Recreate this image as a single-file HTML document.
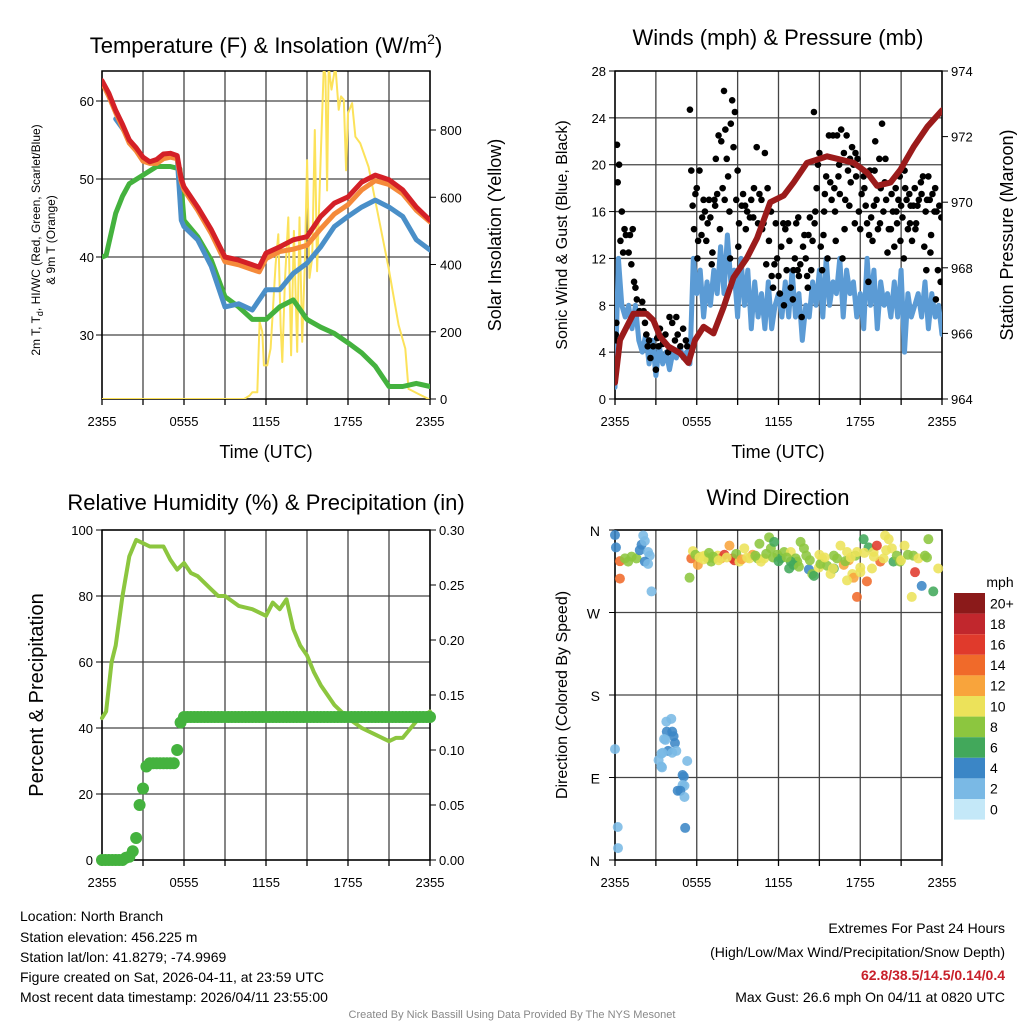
<!DOCTYPE html>
<html><head><meta charset="utf-8"><style>
body{margin:0;background:#fff;}
svg{display:block;font-family:"Liberation Sans",sans-serif;}
</style></head><body>
<svg id="c" width="1024" height="1024" xmlns="http://www.w3.org/2000/svg">
<defs>
<clipPath id="cp1"><rect x="102" y="71" width="328" height="328"/></clipPath>
<clipPath id="cp2"><rect x="615" y="71" width="327" height="328"/></clipPath>
<clipPath id="cp3"><rect x="96" y="524" width="340" height="342"/></clipPath>
</defs>
<g id="titles">
<text x="266" y="53" font-size="22" text-anchor="middle">Temperature (F) &amp; Insolation (W/m<tspan font-size="14" dy="-9">2</tspan><tspan dy="9">)</tspan></text>
<text x="778" y="45" font-size="22" text-anchor="middle">Winds (mph) &amp; Pressure (mb)</text>
<text x="266" y="510" font-size="22" text-anchor="middle">Relative Humidity (%) &amp; Precipitation (in)</text>
<text x="778" y="505" font-size="22" text-anchor="middle">Wind Direction</text>
<text x="266" y="458" font-size="18" text-anchor="middle">Time (UTC)</text>
<text x="778" y="458" font-size="18" text-anchor="middle">Time (UTC)</text>
<text transform="translate(40,240) rotate(-90)" font-size="12" text-anchor="middle">2m T, T<tspan font-size="9" dy="3">d</tspan><tspan dy="-3">, HI/WC (Red, Green, Scarlet/Blue)</tspan></text>
<text transform="translate(55,240) rotate(-90)" font-size="12" text-anchor="middle">&amp; 9m T (Orange)</text>
<text transform="translate(501,235) rotate(-90)" font-size="18" text-anchor="middle">Solar Insolation (Yellow)</text>
<text transform="translate(567,235) rotate(-90)" font-size="16" text-anchor="middle">Sonic Wind &amp; Gust (Blue, Black)</text>
<text transform="translate(1013,235) rotate(-90)" font-size="18" text-anchor="middle">Station Pressure (Maroon)</text>
<text transform="translate(43,695) rotate(-90)" font-size="20" text-anchor="middle">Percent &amp; Precipitation</text>
<text transform="translate(567,695) rotate(-90)" font-size="16" text-anchor="middle">Direction (Colored By Speed)</text>
</g>
<g id="footer" font-size="14">
<text x="20" y="921">Location: North Branch</text>
<text x="20" y="942">Station elevation: 456.225 m</text>
<text x="20" y="962">Station lat/lon: 41.8279; -74.9969</text>
<text x="20" y="982">Figure created on Sat, 2026-04-11, at 23:59 UTC</text>
<text x="20" y="1002">Most recent data timestamp: 2026/04/11 23:55:00</text>
<text x="1005" y="933" text-anchor="end">Extremes For Past 24 Hours</text>
<text x="1005" y="957" text-anchor="end">(High/Low/Max Wind/Precipitation/Snow Depth)</text>
<text x="1005" y="980" text-anchor="end" font-weight="bold" fill="#c8202a">62.8/38.5/14.5/0.14/0.4</text>
<text x="1005" y="1002" text-anchor="end">Max Gust: 26.6 mph On 04/11 at 0820 UTC</text>
<text x="512" y="1018" text-anchor="middle" font-size="11" fill="#888">Created By Nick Bassill Using Data Provided By The NYS Mesonet</text>
</g>
</svg>
<script>
const xTickLabels=["2355","0555","1155","1755","2355"];
const xTickHours=[0,6,12,18,24];
const tempHours=[0,0.5,1,1.5,2,2.5,3,3.5,4,4.5,5,5.5,5.8,6,7,8,9,10,11,11.5,12,13,14,15,16,17,18,19,20,21,22,23,24];
const redTemp=[62.6,61,58.8,57,55,54,52.8,52.2,52.5,53.2,53.3,53,50,49,46.4,43.5,40,39.6,39,38.7,40.5,41.3,42.2,42.6,45.2,46.9,47.7,49.6,50.5,49.9,48.6,46.4,44.7];
const orangeTemp=[62.4,60.6,58.5,56.6,54.6,53.6,52.3,52,52,52.6,52.8,52.6,49.6,48.6,46,43,39.4,39,38.4,38.1,39.8,40.7,41,41.5,43.6,45.5,46.7,48.6,49.8,49.3,48.1,46,44.5];
const blueHours=[1,1.5,2,2.5,3,3.5,4,4.5,5,5.5,5.8,6,7,8,9,10,11,12,13,14,15,16,17,18,19,20,21,22,23,24];
const blueTemp=[57.7,56.5,55,53.8,52.6,52.1,52.4,53,53.2,52.8,44.7,43.9,42.2,38.8,33.6,34,33.2,35.8,35.8,37.9,39.2,41.3,43.9,45.2,46.4,47.3,46.4,45.2,42.2,40.9];
const greenHours=[0,0.3,1,1.5,2,3,4,5,5.7,6,7,8,9,10,11,12,13,14,15,16,17,18,19,20,21,22,23,24];
const greenTemp=[40,40.2,45.6,47.8,49.4,50.5,51.6,51.6,51.3,44.7,42.6,39.6,34.9,33.6,32,32,33.6,34.5,32,31,30.2,29,27.7,26,23.4,23.4,23.8,23.4];
const solarHours=[0,10.4,10.8,11,11.36,11.53,11.73,11.85,12.09,12.34,12.7,12.9,13.07,13.19,13.38,13.63,13.84,14.04,14.28,14.45,14.65,14.84,15.01,15.18,15.38,15.57,15.74,15.99,16.23,16.35,16.47,16.59,16.79,17.08,17.32,17.49,17.69,17.86,18,18.3,18.54,18.9,19.51,20.24,20.97,21.7,22.19,22.43,23.16,23.9];
const solarVals=[0,0,10,20,20,230,200,100,100,150,400,490,220,110,350,540,130,500,140,540,170,400,710,360,420,800,380,700,990,960,620,990,920,990,860,900,890,680,850,880,780,760,690,540,390,220,150,30,15,0];
const tempTicks=[30,40,50,60];
const solarTicks=[0,200,400,600,800];

const windTicks=[0,4,8,12,16,20,24,28];
const presTicks=[964,966,968,970,972,974];
const presHours=[0,0.37,1.35,2.33,2.82,3.31,3.92,4.78,5.39,5.88,6.5,7.23,7.97,8.7,9.68,10.42,11.4,12.38,13.11,14.09,14.83,15.56,16.54,17.52,18.5,19.24,20.22,20.96,21.94,22.92,24];
const presVals=[964.5,965.8,966.6,966.6,966.4,965.9,965.6,965.4,965.1,965.8,966.2,966.0,966.8,967.7,968.3,968.9,970.0,970.2,970.6,971.2,971.3,971.4,971.3,971.2,970.9,970.5,970.6,971.0,971.7,972.3,972.8];
const windVals=[1,12,8,7,8,6,8,5,4,5.5,3,5,2,4.5,3,4,2.5,4,3.5,4.5,3.5,4,3,12,9,11,7,10,8,11,9,13,9,14,10,11,7,12,8,11,6,10,7,9,6,10,6,8,9,7,10,7,11,7,9,5,8,7,10,8,11,7,12,8,10,9,12,7,11,9,10,7,9,6,12,8,11,6,10,8,9,7,10,7,11,4,9,7,8,9,7,10,6,9,7,8,5.5];
const gustHours=[
0.05,0.1,0.15,0.2,0.3,0.4,0.5,0.6,0.7,0.8,
1.0,1.1,1.2,1.3,1.4,1.5,1.6,1.8,2.0,2.1,
2.2,2.3,2.4,2.5,2.6,2.8,3.0,3.1,3.2,3.3,
3.5,3.7,3.9,4.0,4.2,4.4,4.5,4.6,4.8,5.0,
5.2,5.3,5.5,5.6,5.7,5.8,5.9,6.0,6.1,6.2,
6.4,6.5,6.6,6.7,6.8,6.9,7.0,7.1,7.3,7.4,
7.5,7.6,7.7,7.8,7.9,8.0,8.1,8.2,8.3,8.4,
8.5,8.6,8.7,8.8,8.9,9.0,9.1,9.3,9.4,9.6,
9.7,9.9,10.0,10.2,10.4,10.5,10.6,10.8,10.9,11.0,
11.1,11.2,11.3,11.5,11.6,11.7,11.8,11.9,12.0,12.1,
12.2,12.4,12.5,12.6,12.7,12.8,12.9,13.1,13.2,13.3,
13.4,13.5,13.6,13.7,13.8,13.9,14.0,14.1,14.2,14.3,
14.4,14.5,14.6,14.7,14.8,14.9,15.0,15.1,15.2,15.3,
15.4,15.5,15.6,15.7,15.8,15.9,16.0,16.1,16.2,16.3,
16.4,16.5,16.6,16.7,16.8,16.9,17.0,17.1,17.2,17.3,
17.4,17.5,17.6,17.7,17.8,17.9,18.0,18.1,18.3,18.4,
18.5,18.6,18.7,18.8,18.9,19.0,19.1,19.2,19.3,19.4,
19.5,19.6,19.7,19.8,19.9,20.0,20.1,20.3,20.4,20.5,
20.6,20.7,20.8,20.9,21.0,21.1,21.2,21.3,21.4,21.5,
21.6,21.7,21.8,21.9,22.0,22.1,22.2,22.3,22.5,22.6,
22.7,22.8,22.9,23.0,23.1,23.2,23.3,23.5,23.6,23.7,
6.05,6.35,7.15,7.35,8.05,8.45,9.05,9.55,10.15,10.75,
11.45,12.35,13.05,13.45,14.15,14.65,15.35,16.15,16.45,16.85,
17.25,17.65,18.25,18.65,19.05,19.45,19.85,20.25,20.65,20.95,
21.25,21.65,22.05,22.45,22.85,23.15,23.45,23.55,23.95,0.12,
23.8,23.9];
const gustVals=[
5.5,6.5,21.7,18.5,20,13.5,16,12.5,14.5,14,
12.5,14,11.5,14.5,10,9.5,8.5,7.5,8.3,7.5,
6.5,5.5,4.5,5,3.5,4.5,2.5,5.2,4.5,6,
4.7,5.5,4,7,6.5,5,7,5.5,4.5,6,
5,4.5,24.7,19.5,16.5,14.5,17.5,18,13.5,19.5,
15.5,17,16,13.5,15,17,15.5,11.5,17,20.5,
17.5,22.5,14.5,22,18,26.3,23,20.5,19,16,
23.5,25.5,21.5,24.5,17,19.5,15,16.5,17.5,14.5,
16,15.5,17,18,21.5,15,17.5,14.5,15,21,
11.5,18,13.5,10.5,9.5,11.5,15,12,10.5,9,
13,8,14.5,11,15,13.5,9.5,11,12,15,
11,10.5,11.5,7,13,14,12,10.5,14,15.5,
11,13.5,24.5,16,18,20,21,13,11,14,
17.5,19,12,22.5,18.5,17,22.5,18,13.5,22.5,
19,17.5,23,12,21,17,22.5,19.5,16.5,18.5,
21.5,20,15,19,20.5,16,14.5,17.5,18,16.5,
15,10,19.5,15.5,13.5,16.5,22,17,14.5,20.5,
18,23.5,16,18.5,17,12.5,14.5,17.5,16,13,
18,15,17,19,16.5,15.5,12,18,17,14.5,
17.5,16.5,13.5,16.5,18,15,16.5,17,17.5,19,
13,16,17,19,17,14,17.5,18,16,11,
12,14,12.5,16.5,17,12,13,16.5,15.5,17,
16,15,8.5,15.5,9.5,15,16,16,20,14.5,
20.5,21,19,14,19.5,15,20.5,14.5,16,13.5,
19.5,15,14.5,18.5,11,12.5,16,8.5,15.5,5,
16.5,10];

const rhTicks=[0,20,40,60,80,100];
const precipTicks=["0.00","0.05","0.10","0.15","0.20","0.25","0.30"];
const rhHours=[0,0.3,0.7,1,1.5,2,2.5,3,3.5,4,4.5,5,5.5,6,6.5,7,8,8.5,9,10,11,12,12.5,13,13.5,14,14.5,15,15.5,16,17,18,19,20,21,21.5,22,23,24];
const rhVals=[43,45,60,65,80,92,97,96,95,95,95,91,88,90,87,86,82,80,80,77,76,74,78,76,79,70,65,62,57,53,47,43,40,38,36,37,37,42,45];
const precipVals=[0,0,0,0,0,0,0,0.002,0.003,0.008,0.02,0.05,0.065,0.085,0.088,0.088,0.088,0.088,0.088,0.088,0.088,0.088,0.1,0.125,0.13,0.13,0.13,0.13,0.13,0.13,0.13,0.13,0.13,0.13,0.13,0.13,0.13,0.13,0.13,0.13,0.13,0.13,0.13,0.13,0.13,0.13,0.13,0.13,0.13,0.13,0.13,0.13,0.13,0.13,0.13,0.13,0.13,0.13,0.13,0.13,0.13,0.13,0.13,0.13,0.13,0.13,0.13,0.13,0.13,0.13,0.13,0.13,0.13,0.13,0.13,0.13,0.13,0.13,0.13,0.13,0.13,0.13,0.13,0.13,0.13,0.13,0.13,0.13,0.13,0.13,0.13,0.13,0.13,0.13,0.13,0.13,0.13];

const dirLabels=["N","E","S","W","N"];
const speedLabels=["0","2","4","6","8","10","12","14","16","18","20+"];
const speedColors=["#c4e8f8","#7ab9e5","#3b86c6","#42a85b","#8cc63f","#ece25a","#f8a43c","#f06a2a","#e03a2c","#c1272d","#8b1a1a"];
const dirHours=[0,0.07,0.36,0.73,0.97,1.22,1.58,0.36,1.82,1.95,2.19,2.07,2.55,2.43,2.19,2.68,2.43,0,0.2,0.22,3.77,4.13,3.8,4.2,4.3,3.6,3.7,4.4,3.9,4.5,3.4,3.2,3.5,4.2,3.4,3.45,5.3,4.96,5.05,4.96,5.1,4.6,4.8,5.1,5.15,5.47,5.6,5.72,6.08,6.33,6.57,6.81,7.06,7.3,7.54,7.79,8.03,8.4,8.64,8.76,9.13,9.49,9.86,10.1,10.47,10.71,11.31,11.44,11.68,11.92,12.17,12.41,12.78,12.9,13.26,13.38,13.62,13.87,14.04,14.23,14.48,14.6,14.96,15.2,15.57,15.82,16.06,16.3,16.55,16.79,17.03,17.16,17.42,17.52,17.64,17.76,18.01,18.25,18.49,18.61,18.86,18.98,19.22,19.47,19.71,19.82,20.09,20.32,20.44,20.68,20.92,21.25,21.78,21.9,22.02,22.27,22.51,22.75,23.0,23.36,23.72,17.03,17.76,16.06,15.08,12.9,10.95,18.0];
const dirVals=[354.5,341,326,329,325.5,331,329,307,338,344,348,354,332,336,325.5,293,323,121,36,13,151,154,140,140,135,132,131,127.6,119,119,116,109,117,117,102,101,108,92.7,91,81.8,81,75.6,75.6,68.7,35,308,329,337,322,331,332,329,325.5,329,332,329,333,343,329,327,325.5,340,329,333,329,325.5,352,340,347,333,329,336,318,336,329,325.5,347,340,332,317,312,310,319,329,321,312,318,329,343,322,336,327,312,308,332,287,314,350,304,341,318,336,343,325.5,329,354,350,340,325.5,332,325.5,343,287,332,314,329,299,332,350,293,318,305,336,332,323,325.5,329,319,301,329,307,322,334,320,1];
const dirSpeeds=[3,3,13,7,8,7,8,13,3,3,2,1,2,2,3,2,2,2,2,2,2,2,4,3,4,2,2,4,4,2,2,1,2,2,2,1,2,4,4,2,2,4,4,2,4,7,13,10,12,9,10,8,7,8,10,12,15,12,15,16,9,10,10,12,8,9,8,7,6,7,6,8,6,9,7,8,7,7,8,4,7,6,10,10,8,10,6,8,9,12,10,11,10,11,7,13,10,6,13,6,10,9,16,13,9,9,10,9,6,7,8,9,10,7,16,10,4,7,7,6,10,10,10,8,8,6,9,9,10,10,8,7,9,10];
const dirHours2=[5.9,6.2,6.5,6.9,7.2,7.6,8.2,8.9,9.3,9.7,10.3,10.6,11.1,11.6,12.0,12.6,13.1,13.5,14.3,15.0,15.4,16.0,16.9,17.3,18.3,19.0,19.9,21.0,21.5,22.9];
const dirVals2=[333,330,328,335,331,327,330,334,328,330,332,345,334,330,326,330,322,320,327,333,330,318,326,330,335,331,338,327,333,330];
const dirSpeeds2=[8,9,10,8,7,10,9,8,12,9,8,7,7,8,6,7,6,7,8,9,10,10,8,9,9,10,9,10,8,7];

const NS="http://www.w3.org/2000/svg";
const svg=document.getElementById('c');
function el(tag,attrs,parent){const e=document.createElementNS(NS,tag);for(const k in attrs)e.setAttribute(k,attrs[k]);(parent||svg).appendChild(e);return e;}
function lin(d0,d1,r0,r1){return v=>r0+(v-d0)*(r1-r0)/(d1-d0);}

function frame(L,R,T,B,hLines,name){
  const g=el('g',{});
  
  
  for(let i=0;i<=8;i++){const x=L+(R-L)*i/8;el('line',{x1:x,x2:x,y1:T,y2:B,stroke:'#444','stroke-width':1.3},g);}
  hLines.forEach(y=>el('line',{x1:L,x2:R,y1:y,y2:y,stroke:'#444','stroke-width':1.3},g));
  el('rect',{x:L,y:T,width:R-L,height:B-T,fill:'none',stroke:'#000','stroke-width':1.5},g);
  for(let i=0;i<=8;i++){const x=L+(R-L)*i/8;el('line',{x1:x,x2:x,y1:B,y2:B+6,stroke:'#000','stroke-width':1.3},g);}
}
function xLabels(L,R,y,name){
  const xs=lin(0,24,L,R);
  xTickHours.forEach((h,i)=>{const t=el('text',{x:xs(h),y:y,'font-size':13,'text-anchor':'middle'});t.textContent=xTickLabels[i];
  
  });
}
function pathD(xsArr,ysArr){return xsArr.map((x,i)=>(i?'L':'M')+x.toFixed(1)+','+ysArr[i].toFixed(1)).join('');}
function line(d,color,w,name,clip){const p=el('path',{d:d,fill:'none',stroke:color,'stroke-width':w,'stroke-linejoin':'round','stroke-linecap':'round','clip-path':clip?'url(#'+clip+')':''});
  
  return p;}
function label(x,y,txt,anchor,name,size){const t=el('text',{x:x,y:y,'font-size':size||13,'text-anchor':anchor});t.textContent=txt;
  
  return t;}

/* Panel 1 */
{const L=102,R=430,T=71,B=399;
 const xs=lin(0,24,L,R), yt=lin(40,50,257,179), ys=lin(0,800,399,130);
 frame(L,R,T,B,tempTicks.map(yt),'temperature');
 tempTicks.forEach(v=>{label(L-8,yt(v)+5,String(v),'end','temp-tick-label');el('line',{x1:L-6,x2:L,y1:yt(v),y2:yt(v),stroke:'#000'});});
 solarTicks.forEach(v=>{label(R+10,ys(v)+5,String(v),'start','solar-tick-label');el('line',{x1:R,x2:R+6,y1:ys(v),y2:ys(v),stroke:'#000'});});
 xLabels(L,R,426,'temperature');
 line(pathD(solarHours.map(xs),solarVals.map(ys)),'#fce25a',2,'solar-line','cp1');
 line(pathD(greenHours.map(xs),greenTemp.map(yt)),'#44b23e',5,'dewpoint-line','cp1');
 line(pathD(blueHours.map(xs),blueTemp.map(yt)),'#4a8fc8',5,'windchill-line','cp1');
 line(pathD(tempHours.map(xs),orangeTemp.map(yt)),'#f58a3a',5,'temp-9m-line','cp1');
 line(pathD(tempHours.map(xs),redTemp.map(yt)),'#d42027',5,'temp-2m-line','cp1');
}
/* Panel 2 */
{const L=615,R=942,T=71,B=399;
 const xs=lin(0,24,L,R), yw=lin(0,28,B,T), yp=lin(964,974,B,T);
 frame(L,R,T,B,windTicks.map(yw),'winds');
 windTicks.forEach(v=>{label(L-9,yw(v)+5,String(v),'end','wind-tick-label');el('line',{x1:L-6,x2:L,y1:yw(v),y2:yw(v),stroke:'#000'});});
 presTicks.forEach(v=>{label(R+9,yp(v)+5,String(v),'start','pressure-tick-label');el('line',{x1:R,x2:R+6,y1:yp(v),y2:yp(v),stroke:'#000'});});
 xLabels(L,R,426,'winds');
 const wh=windVals.map((v,i)=>i*0.25);
 line(pathD(wh.map(xs),windVals.map(yw)),'#5b9bd5',5,'sonic-wind-line','cp2');
 const gg=el('g',{'clip-path':'url(#cp2)'});
 
 
 gustHours.forEach((h,i)=>{if(gustVals[i]===undefined)return;const c=el('circle',{cx:xs(h),cy:yw(gustVals[i]),r:3.3,fill:'#000'},gg);
  
  });
 line(pathD(presHours.map(xs),presVals.map(yp)),'#9b1b1b',6,'pressure-line','cp2');
}
/* Panel 3 */
{const L=102,R=430,T=530,B=860;
 const xs=lin(0,24,L,R), yr=lin(0,100,B,T), yq=lin(0,0.3,B,T);
 frame(L,R,T,B,rhTicks.map(yr),'humidity');
 rhTicks.forEach(v=>{label(L-9,yr(v)+5,String(v),'end','rh-tick-label');el('line',{x1:L-6,x2:L,y1:yr(v),y2:yr(v),stroke:'#000'});});
 precipTicks.forEach((s,i)=>{const y=B-(B-T)*i/6;label(R+9,y+5,s,'start','precip-tick-label');el('line',{x1:R,x2:R+6,y1:y,y2:y,stroke:'#000'});});
 xLabels(L,R,887,'humidity');
 line(pathD(rhHours.map(xs),rhVals.map(yr)),'#8cc63f',4,'rh-line','cp3');
 const pg=el('g',{'clip-path':'url(#cp3)'});
 
 
 precipVals.forEach((v,i)=>{const c=el('circle',{cx:xs(i*0.25),cy:yq(v),r:6,fill:'#44b23e'},pg);
  
  });
}
/* Panel 4 */
{const L=615,R=942,T=530,B=860;
 const xs=lin(0,24,L,R), yd=lin(0,360,B,T);
 frame(L,R,T,B,[0,90,180,270,360].map(yd),'direction');
 dirLabels.forEach((s,i)=>{label(L-15,yd(i*90)+6,s,'end','direction-tick-label',14);el('line',{x1:L-6,x2:L,y1:yd(i*90),y2:yd(i*90),stroke:'#000'});});
 xLabels(L,R,887,'direction');
 const dg=el('g',{});
 
 
 function dot(h,d,s){const idx=Math.min(10,Math.round(s/2));
  const r=d<5?2.5:5;
  const c=el('circle',{cx:xs(h),cy:yd(d),r:r,fill:speedColors[idx],'fill-opacity':0.88},dg);
  
  }
 dirHours.forEach((h,i)=>{if(dirVals[i]!==undefined&&dirSpeeds[i]!==undefined)dot(h,dirVals[i],dirSpeeds[i]);});
 dirHours2.forEach((h,i)=>dot(h,dirVals2[i],dirSpeeds2[i]));
 /* colorbar */
 const cb=el('g',{});
 
 
 const top=593,h=20.6;
 label(1000,587,'mph','middle','colorbar-unit-label',14);
 for(let i=0;i<11;i++){const k=10-i;const y=top+i*h;
  const r=el('rect',{x:954,y:y,width:31,height:h,fill:speedColors[k]},cb);
  
  
  label(990,y+h/2+5,speedLabels[k],'start','colorbar-label',14);}
}
</script>
</body></html>
